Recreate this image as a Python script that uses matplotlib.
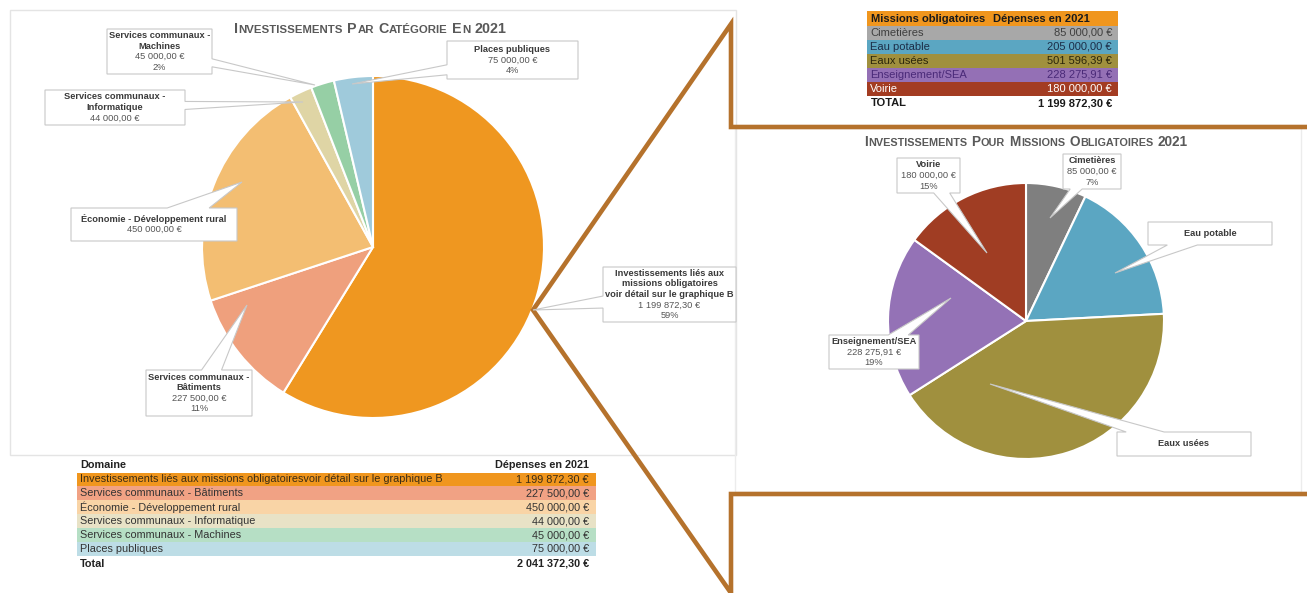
"""Investissements 2021 : camembert par catégorie + zoom sur les missions obligatoires (graphique B)."""

import matplotlib

matplotlib.use("Agg")
import matplotlib.pyplot as plt
from matplotlib import font_manager
from matplotlib.patches import Polygon, Rectangle

W, H = 1307, 593

# ---------------- data ----------------

cat_names = [
    "Investissements liés aux\nmissions obligatoires\nvoir détail sur le graphique B",
    "Services communaux -\nBâtiments",
    "Économie - Développement rural",
    "Services communaux -\nInformatique",
    "Services communaux -\nMachines",
    "Places publiques",
]
cat_table_names = [
    "Investissements liés aux missions obligatoiresvoir détail sur le graphique B",
    "Services communaux - Bâtiments",
    "Économie - Développement rural",
    "Services communaux - Informatique",
    "Services communaux - Machines",
    "Places publiques",
]
cat_values = [1199872.30, 227500.00, 450000.00, 44000.00, 45000.00, 75000.00]
cat_show = ["vp", "vp", "v", "v", "vp", "vp"]  # v = value, p = percent in the callout

mission_names = ["Cimetières", "Eau potable", "Eaux usées", "Enseignement/SEA", "Voirie"]
mission_values = [85000.00, 205000.00, 501596.39, 228275.91, 180000.00]
mission_show = ["vp", "", "", "vp", "vp"]

title_left = "Investissements Par Catégorie En 2021"
title_right = "Investissements Pour Missions Obligatoires 2021"

# ---------------- style ----------------

cat_colors = ["#EF9720", "#EFA07D", "#F3BE72", "#DFD5A5", "#96CFA5", "#9FCADB"]
cat_row_colors = ["#F0961E", "#F1A284", "#F9D4A6", "#E8E2C6", "#B6DFC5", "#BDDDE6"]
mission_colors = ["#7F7F7F", "#5BA6C2", "#A0903E", "#9472B6", "#A03D23"]
mission_row_colors = ["#A8A8A8", "#5BA6C2", "#A0903E", "#9470B5", "#A33C22"]
mission_text_colors = ["#3F3F3F", "#1C2E48", "#2A250A", "#4A2A78", "white"]
BROWN = "#B5722C"
EDGE = "#C8C8C8"


def _have(name):
    try:
        font_manager.findfont(name, fallback_to_default=False)
        return True
    except ValueError:
        return False


TITLE_FONT = "Liberation Sans Narrow" if _have("Liberation Sans Narrow") else "Liberation Sans"
plt.rcParams["font.family"] = ["Liberation Sans", "DejaVu Sans"]

# layout in pixels (y downwards)
cat_boxes = [(603, 267, 736, 322), (146, 370, 252, 416), (71, 208, 237, 241),
             (45, 90, 185, 125), (107, 29, 212, 74), (447, 41, 578, 79)]
cat_tips = [(533, 310), (247, 305), (242, 182), (303, 102), (315, 85), (352, 84)]
cat_hw = [6, 10, 21, 4, 4, 5]
mission_boxes = [(1063, 154, 1121, 189), (1148, 222, 1272, 245), (1117, 432, 1251, 456),
                 (829, 335, 919, 369), (897, 158, 960, 193)]
mission_tips = [(1050, 218), (1115, 273), (990, 384), (951, 298), (987, 253)]
mission_hw = [6, 15, 19, 10, 8]


def euro(v):
    return f"{v:,.2f}".replace(",", " ").replace(".", ",") + " €"


fig = plt.figure(figsize=(W / 100, H / 100), dpi=100)
ax = fig.add_axes([0, 0, 1, 1])
renderer = fig.canvas.get_renderer()


def callout(box, tip, hw, lines):
    """White box with a wedge pointer, drawn as one outline like the spreadsheet callouts."""
    x0, y0, x1, y1 = box
    cx, cy = (x0 + x1) / 2, (y0 + y1) / 2
    dx, dy = tip[0] - cx, tip[1] - cy
    a, b = (x1 - x0) / 2, (y1 - y0) / 2
    c = [(x0, y0), (x1, y0), (x1, y1), (x0, y1)]
    if abs(dx) * b > abs(dy) * a:
        ey = min(max(cy + dy * a / abs(dx), y0 + hw), y1 - hw)
        if dx > 0:
            pts = c[:2] + [(x1, ey - hw), tip, (x1, ey + hw)] + c[2:]
        else:
            pts = c + [(x0, ey + hw), tip, (x0, ey - hw)]
    else:
        ex = min(max(cx + dx * b / abs(dy), x0 + hw), x1 - hw)
        if dy < 0:
            pts = c[:1] + [(ex - hw, y0), tip, (ex + hw, y0)] + c[1:]
        else:
            pts = c[:3] + [(ex + hw, y1), tip, (ex - hw, y1)] + c[3:]
    ax.add_patch(Polygon(pts, closed=True, fc="white", ec=EDGE, lw=0.8, joinstyle="miter", zorder=5))
    lh = 10.6
    for i, (s, bold) in enumerate(lines):
        ax.text(cx, cy + (i - (len(lines) - 1) / 2) * lh, s, ha="center", va="center",
                fontsize=6.7, fontweight="bold" if bold else "normal",
                color="#3A3A3A" if bold else "#555555", zorder=6)


def label_lines(name, value, total, show):
    lines = [(s, True) for s in name.split("\n")]
    if "v" in show:
        lines.append((euro(value), False))
    if "p" in show:
        lines.append((f"{round(100 * value / total)}%", False))
    return lines


def small_caps_title(text, cx, baseline, target_w, color="#595959"):
    words = []
    for word in text.split(" "):
        runs = []
        for ch in word:
            big = not ch.islower()
            if runs and runs[-1][1] == big:
                runs[-1][0] += ch.upper()
            else:
                runs.append([ch.upper(), big])
        words.append(runs)
    big_fs, small_fs = 12.0, 9.6
    texts = [[ax.text(0, baseline, s, fontsize=big_fs if big else small_fs, fontweight="bold",
                      family=TITLE_FONT, color=color, ha="left", va="baseline", zorder=6)
              for s, big in runs] for runs in words]

    def measure(scale):
        for ts, runs in zip(texts, words):
            for t, (_, big) in zip(ts, runs):
                t.set_fontsize((big_fs if big else small_fs) * scale)
        widths = [[t.get_window_extent(renderer).width for t in ts] for ts in texts]
        space = 0.28 * big_fs * scale * 100 / 72
        gap = 0.07 * small_fs * scale * 100 / 72
        total = sum(sum(w) + gap * (len(w) - 1) for w in widths) + space * (len(widths) - 1)
        return widths, space, gap, total

    *_, total = measure(1.0)
    widths, space, gap, total = measure(target_w / total)
    x = cx - total / 2
    for ts, ws in zip(texts, widths):
        for t, w in zip(ts, ws):
            t.set_x(x)
            x += w + gap
        x += space - gap


# ---------------- panels + connector ----------------

ax.add_patch(Rectangle((10, 10), 726, 445, fill=False, ec="#E4E4E4", lw=1, zorder=0))
ax.add_patch(Rectangle((735, 128), 566, 364, fill=False, ec="#ECECEC", lw=1, zorder=0))
ax.plot([W, 731, 731, 533, 731, 731, W], [127, 127, 24, 310, 593, 494, 494],
        color=BROWN, lw=3.3, solid_joinstyle="miter", zorder=4)

# ---------------- pies (y axis is inverted: start at -90, ccw in data = clockwise on screen) ----------------

ax.pie(cat_values, colors=cat_colors, startangle=-90, counterclock=True, center=(373, 247), radius=171,
       wedgeprops=dict(edgecolor="white", linewidth=1.5), frame=True)
ax.pie(mission_values, colors=mission_colors, startangle=-90, counterclock=True, center=(1026, 321),
       radius=138, wedgeprops=dict(edgecolor="white", linewidth=1.5), frame=True)

cat_total = sum(cat_values)
for name, v, show, box, tip, hw in zip(cat_names, cat_values, cat_show, cat_boxes, cat_tips, cat_hw):
    callout(box, tip, hw, label_lines(name, v, cat_total, show))

mission_total = sum(mission_values)
for name, v, show, box, tip, hw in zip(mission_names, mission_values, mission_show, mission_boxes,
                                       mission_tips, mission_hw):
    callout(box, tip, hw, label_lines(name, v, mission_total, show))

small_caps_title(title_left, 370, 33, 272)
small_caps_title(title_right, 1025.6, 146.5, 326)

# ---------------- bottom table (graphique A) ----------------

fs = 7.8
ax.text(80, 465, "Domaine", fontsize=fs, fontweight="bold", color="#222222", va="center")
ax.text(589, 465, "Dépenses en 2021", fontsize=fs, fontweight="bold", color="#222222", va="center", ha="right")
row_h = 13.9
for i, (name, v, col) in enumerate(zip(cat_table_names, cat_values, cat_row_colors)):
    y = 472.5 + i * row_h
    ax.add_patch(Rectangle((77, y), 519, row_h, fc=col, ec="none", zorder=1))
    tc = "#3B2C14" if i == 0 else "#333333"
    ax.text(80, y + row_h / 2, name, fontsize=fs, color=tc, va="center", zorder=2)
    ax.text(589, y + row_h / 2, euro(v), fontsize=fs, color=tc, va="center", ha="right", zorder=2)
ax.text(80, 564, "Total", fontsize=fs, fontweight="bold", color="#222222", va="center")
ax.text(589, 564, euro(cat_total), fontsize=fs, fontweight="bold", color="#222222", va="center", ha="right")

# ---------------- top-right table (graphique B) ----------------

fs = 8
ax.add_patch(Rectangle((867, 11.3), 251, 14.4, fc="#F0961E", ec="none", zorder=1))
ax.text(871, 18.5, "Missions obligatoires", fontsize=fs, fontweight="bold", color="#1A1A1A", va="center", zorder=2)
ax.text(993, 18.5, "Dépenses en 2021", fontsize=fs, fontweight="bold", color="#1A1A1A", va="center", zorder=2)
row_h = 14.0
for i, (name, v, col, tc) in enumerate(zip(mission_names, mission_values, mission_row_colors, mission_text_colors)):
    y = 25.7 + i * row_h
    ax.add_patch(Rectangle((867, y), 251, row_h, fc=col, ec="none", zorder=1))
    ax.text(870, y + row_h / 2, name, fontsize=fs, color=tc, va="center", zorder=2)
    ax.text(1112, y + row_h / 2, euro(v), fontsize=fs, color=tc, va="center", ha="right", zorder=2)
ax.text(871, 103, "TOTAL", fontsize=fs, fontweight="bold", color="#1A1A1A", va="center")
ax.text(1112, 103, euro(mission_total), fontsize=fs, fontweight="bold", color="#1A1A1A", va="center", ha="right")

ax.set_aspect("auto")
ax.set_xlim(0, W)
ax.set_ylim(H, 0)
ax.set_axis_off()
fig.savefig("out.png", dpi=100, facecolor="white")
